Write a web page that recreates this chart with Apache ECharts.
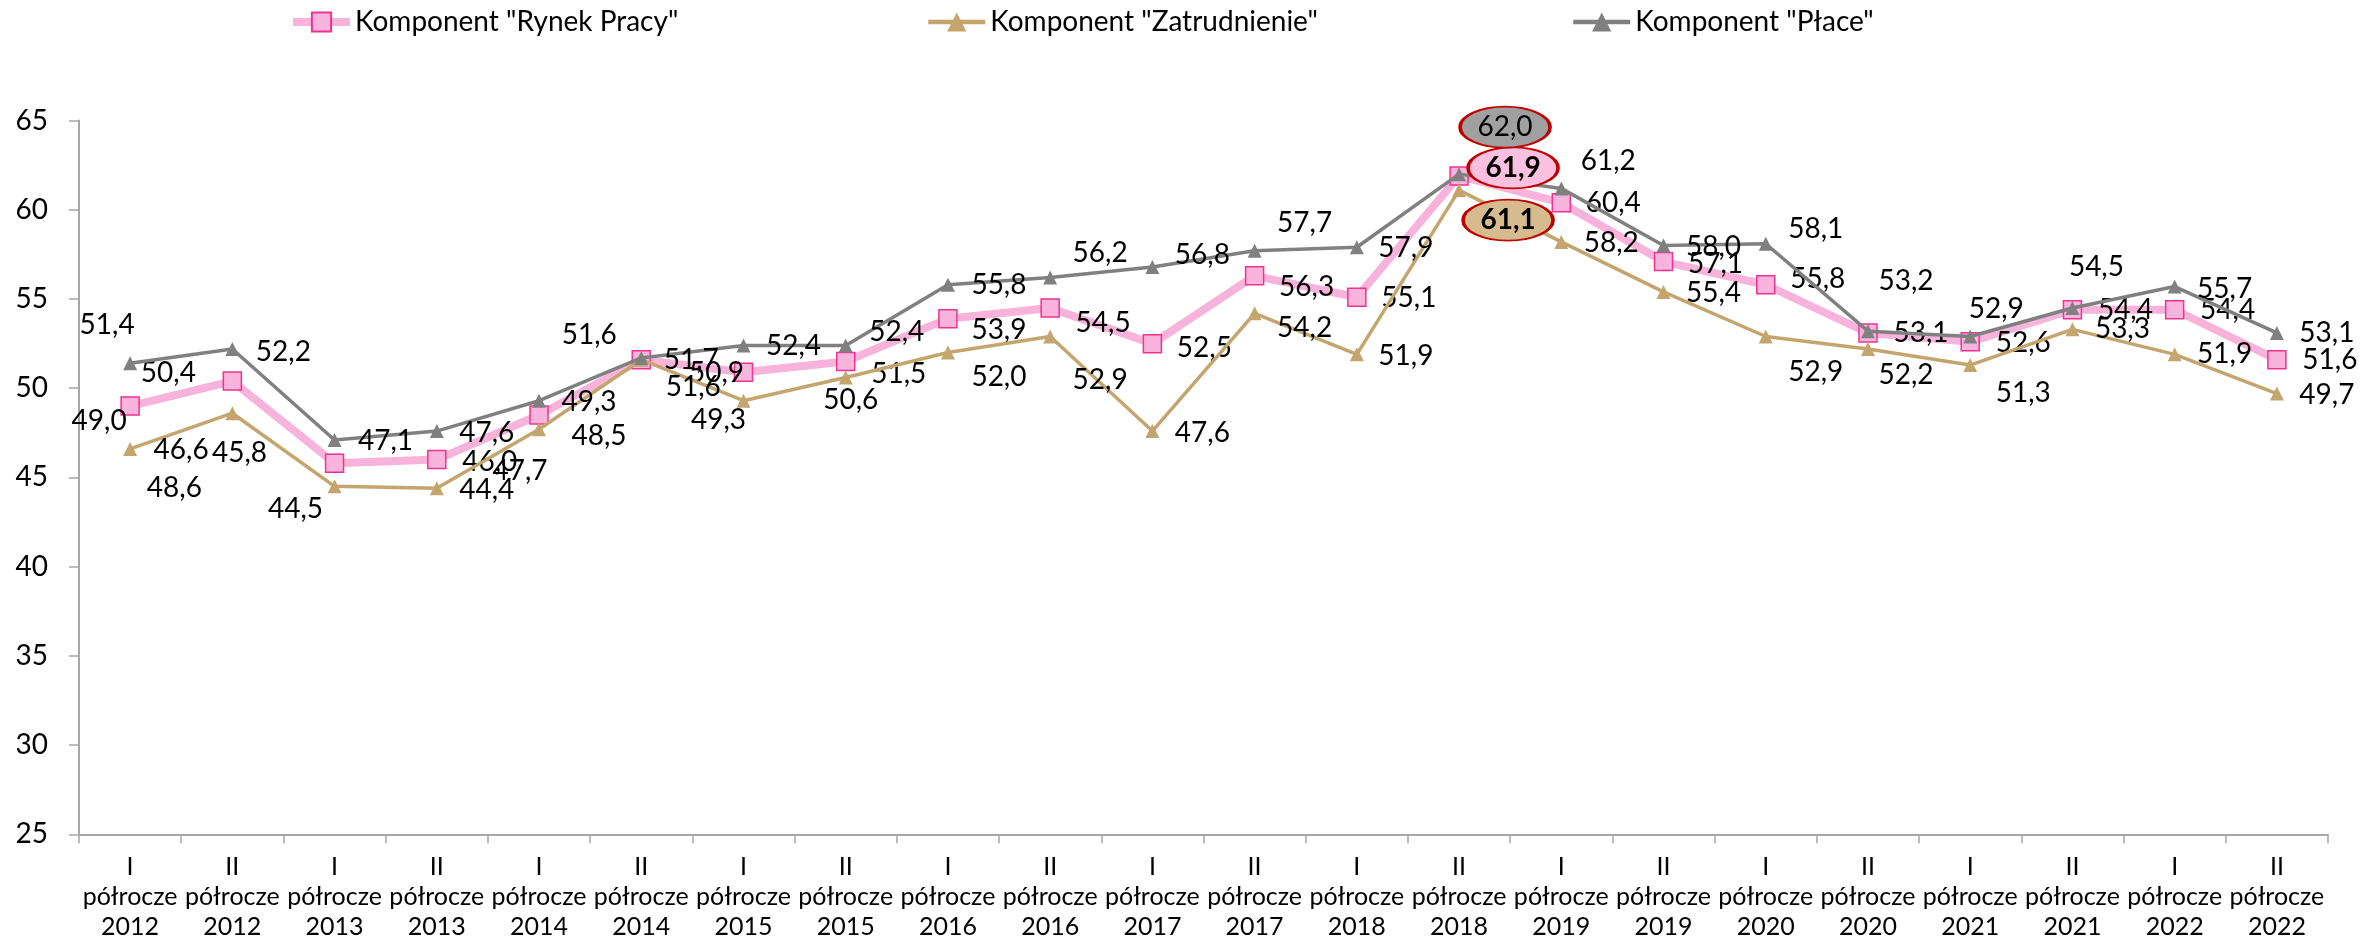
<!DOCTYPE html>
<html>
<head>
<meta charset="utf-8">
<script src="https://cdn.jsdelivr.net/npm/echarts@6/dist/echarts.min.js"></script>
<style>
html,body{margin:0;padding:0;background:#fff;}
#chart{width:2364px;height:946px;}
</style>
</head>
<body>
<div id="chart"></div>
<script>
// ---- data ----
const halves = ['I','II','I','II','I','II','I','II','I','II','I','II','I','II','I','II','I','II','I','II','I','II'];
const years = ['2012','2012','2013','2013','2014','2014','2015','2015','2016','2016','2017','2017','2018','2018','2019','2019','2020','2020','2021','2021','2022','2022'];
const seriesNames = ['Komponent "Rynek Pracy"', 'Komponent "Zatrudnienie"', 'Komponent "Płace"'];
const rynekPracy = [49.0,50.4,45.8,46.0,48.5,51.6,50.9,51.5,53.9,54.5,52.5,56.3,55.1,61.9,60.4,57.1,55.8,53.1,52.6,54.4,54.4,51.6];
const zatrudnienie = [46.6,48.6,44.5,44.4,47.7,51.6,49.3,50.6,52.0,52.9,47.6,54.2,51.9,61.1,58.2,55.4,52.9,52.2,51.3,53.3,51.9,49.7];
const place = [51.4,52.2,47.1,47.6,49.3,51.7,52.4,52.4,55.8,56.2,56.8,57.7,57.9,62.0,61.2,58.0,58.1,53.2,52.9,54.5,55.7,53.1];
const yTicks = {min:25, max:65, interval:5};

// ---- label placement (styling, px offsets of label centre from its point) ----
const offRynek = [[-31,15],[-64,-8],[-95,-10],[53,2],[60,21],[-52,-25],[-27,1],[53,12],[51,11],[53,15],[52,4],[52,11],[52,1],[0,0],[52,0],[52,2],[52,-6],[53,0],[53,1],[53,0],[53,0],[53,0]];
const offZatr = [[51,1],[-58,75],[-39,23],[50,2],[-19,42],[52,27],[-25,19],[5,22],[51,24],[50,43],[50,2],[50,15],[49,2],[0,0],[50,1],[50,1],[50,35],[38,26],[53,28],[50,0],[50,0],[50,1]];
const offPlace = [[-23,-38],[51,3],[51,1],[50,2],[50,1],[50,2],[50,1],[51,-13],[51,0],[50,-25],[50,-12],[50,-28],[49,1],[0,0],[47,-27],[50,1],[50,-15],[38,-50],[26,-28],[24,-41],[50,2],[50,0]];

const FONT = 'Lato';
const fmt = v => Number(v).toFixed(1).replace('.', ',');
const categories = halves.map((h,i) => h + '\npółrocze\n' + years[i]);

function buildData(vals, offs) {
  const maxIdx = vals.indexOf(Math.max.apply(null, vals));
  return vals.map((v,i) => ({
    value: v,
    label: { show: i !== maxIdx, offset: offs[i] }
  }));
}

function makeSeries(name, vals, offs, opt) {
  return {
    name: name,
    type: 'line',
    data: buildData(vals, offs),
    symbol: opt.symbol,
    symbolSize: opt.symbolSize,
    showAllSymbol: true,
    lineStyle: { color: opt.lineColor, width: opt.lineWidth },
    itemStyle: { color: opt.fill, borderColor: opt.border, borderWidth: opt.borderWidth },
    emphasis: { disabled: true },
    z: opt.z,
    label: {
      show: true, position: 'inside',
      formatter: p => fmt(p.value),
      fontFamily: FONT, fontSize: 28, color: '#000'
    },
    markPoint: {
      symbol: 'circle',
      symbolSize: [90, 41],
      symbolOffset: opt.maxOffset,
      data: [{ type: 'max' }],
      itemStyle: { color: opt.maxFill, borderColor: '#C00000', borderWidth: 2.5 },
      label: {
        show: true, position: 'inside',
        formatter: p => fmt(p.value),
        fontFamily: FONT, fontSize: 28, color: '#000',
        fontWeight: opt.maxBold ? 'bold' : 'normal'
      },
      emphasis: { disabled: true }
    }
  };
}

const chart = echarts.init(document.getElementById('chart'), null, { renderer: 'canvas' });

const legendBase = {
  top: 8, padding: 0, itemWidth: 57, itemHeight: 24, itemGap: 5,
  textStyle: { fontFamily: FONT, fontSize: 28, color: '#000' },
  selectedMode: false
};

chart.setOption({
  animation: false,
  backgroundColor: '#fff',
  legend: [
    Object.assign({}, legendBase, { left: 289, data: [seriesNames[0]], lineStyle: { width: 8 } }),
    Object.assign({}, legendBase, { left: 926, data: [seriesNames[1]], lineStyle: { width: 4.5 } }),
    Object.assign({}, legendBase, { left: 1571, data: [seriesNames[2]], lineStyle: { width: 4.5 } })
  ],
  grid: { left: 79, right: 36, top: 120.6, bottom: 111.7, containLabel: false, outerBoundsMode: 'none' },
  xAxis: {
    type: 'category',
    data: categories,
    boundaryGap: true,
    axisLine: { lineStyle: { color: '#A6A6A6', width: 2 } },
    axisTick: { show: true, length: 9, alignWithLabel: false, interval: 0, lineStyle: { color: '#A6A6A6', width: 1.5 } },
    axisLabel: { interval: 0, fontFamily: FONT, fontSize: 25, lineHeight: 30, color: '#000', margin: 18 },
    splitLine: { show: false }
  },
  yAxis: {
    type: 'value',
    min: yTicks.min, max: yTicks.max, interval: yTicks.interval,
    axisLine: { show: true, lineStyle: { color: '#A6A6A6', width: 2 } },
    axisTick: { show: true, length: 10, lineStyle: { color: '#A6A6A6', width: 1.5 } },
    axisLabel: { fontFamily: FONT, fontSize: 28, color: '#000', margin: 31 },
    splitLine: { show: false }
  },
  series: [
    makeSeries(seriesNames[0], rynekPracy, offRynek, {
      symbol: 'rect', symbolSize: 18, lineColor: '#F7B3DA', lineWidth: 8,
      fill: '#F8B4DC', border: '#F0338F', borderWidth: 1.5, z: 2,
      maxOffset: [54, -8], maxFill: '#F9C0E0', maxBold: true
    }),
    makeSeries(seriesNames[1], zatrudnienie, offZatr, {
      symbol: 'triangle', symbolSize: 14, lineColor: '#C4A56E', lineWidth: 3.5,
      fill: '#C4A56E', border: '#C4A56E', borderWidth: 0, z: 3,
      maxOffset: [49, 30], maxFill: '#D6BB8E', maxBold: true
    }),
    makeSeries(seriesNames[2], place, offPlace, {
      symbol: 'triangle', symbolSize: 14, lineColor: '#808080', lineWidth: 3.5,
      fill: '#808080', border: '#808080', borderWidth: 0, z: 4,
      maxOffset: [46, -47], maxFill: '#A0A0A0', maxBold: false
    })
  ]
});
</script>
</body>
</html>
